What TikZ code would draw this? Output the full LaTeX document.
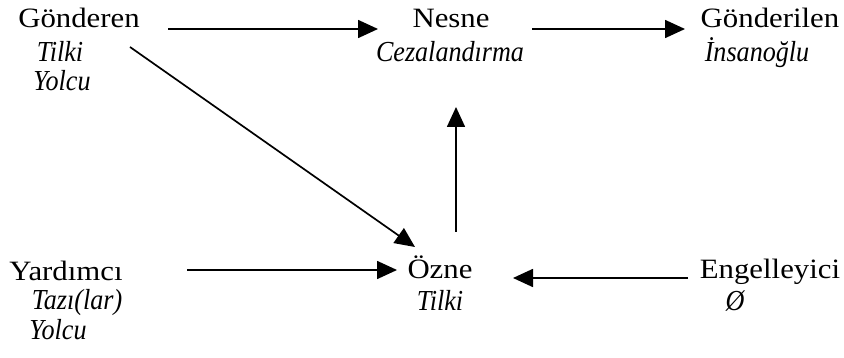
\documentclass[tikz,border=0pt]{standalone}
\usepackage{fontspec}
\setmainfont{Liberation Serif}[FakeStretch=1.1]
\newfontfamily\itf{Liberation Serif}[FakeStretch=0.9]
\usetikzlibrary{arrows.meta}
\tikzset{
  lbl/.style={inner sep=0pt, anchor=base, font=\fontsize{28}{32}\selectfont},
  sub/.style={inner sep=0pt, anchor=base, font=\fontsize{29}{33}\selectfont\itf\itshape},
  arr/.style={line width=1.7pt, -{Triangle[length=20pt,width=18pt]}}
}
\begin{document}
\begin{tikzpicture}[x=1pt,y=-1pt]
\useasboundingbox (0,0) rectangle (844,358);
% top row
\node[lbl] (gond) at (79,28) {Gönderen};
\node[sub] (gondA) at (60,62) {Tilki};
\node[sub] (gondB) at (62,91) {Yolcu};
\node[lbl] (nesne) at (451,28) {Nesne};
\node[sub] (nesneA) at (450,62) {Cezalandırma};
\node[lbl] (gonderilen) at (770,28) {Gönderilen};
\node[sub] (gonderilenA) at (757,62) {İnsanoğlu};
% bottom row
\node[lbl] (yard) at (66,280) {Yardımcı};
\node[sub] (yardA) at (77,309) {Tazı(lar)};
\node[sub] (yardB) at (58,339) {Yolcu};
\node[lbl] (ozne) at (440,279) {Özne};
\node[sub] (ozneA) at (440,311) {Tilki};
\node[lbl] (engel) at (770,279) {Engelleyici};
\node[sub] (engelA) at (735,311) {Ø};
% connectors
\draw[arr] ([shift={(89,1)}]gond.base) -- ([shift={(-73,1)}]nesne.base);
\draw[arr] ([shift={(81,1)}]nesne.base) -- ([shift={(-85,1)}]gonderilen.base);
\draw[arr] ([shift={(51,19)}]gond.base) -- ([shift={(-25,-32)}]ozne.base);
\draw[arr] ([shift={(16,-47)}]ozne.base) -- ([shift={(6,45)}]nesneA.base);
\draw[arr] ([shift={(121,-10)}]yard.base) -- ([shift={(-43,-9)}]ozne.base);
\draw[arr] ([shift={(-82,-1)}]engel.base) -- ([shift={(73,-1)}]ozne.base);
\end{tikzpicture}
\end{document}
